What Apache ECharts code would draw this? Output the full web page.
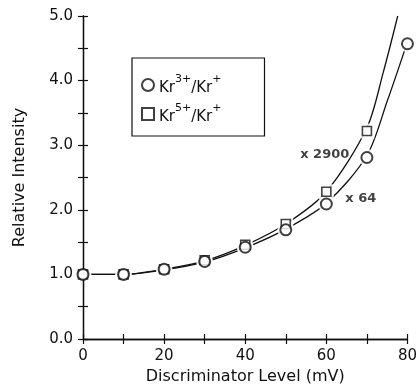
<!DOCTYPE html>
<html>
<head>
<meta charset="utf-8">
<script src="https://cdn.jsdelivr.net/npm/echarts@6/dist/echarts.min.js"></script>
<style>
  html, body { margin: 0; padding: 0; background: #fff; }
  #chart { width: 420px; height: 392px; }
</style>
</head>
<body>
<div id="chart"></div>
<script>
// measured points
const levels = [0, 10, 20, 30, 40, 50, 60, 70, 80];
const kr3 = [1.0, 1.0, 1.08, 1.2, 1.42, 1.69, 2.09, 2.81, 4.57];
const kr5Levels = [0, 10, 20, 30, 40, 50, 60, 70];
const kr5 = [1.0, 1.0, 1.08, 1.22, 1.46, 1.78, 2.28, 3.22];

// fitted curves as drawn
const fit3X = [0, 10, 20, 30, 40, 50, 60, 70, 75, 80];
const fit3Y = [1.0, 1.0, 1.07, 1.19, 1.41, 1.70, 2.10, 2.84, 3.68, 4.60];
const fit5X = [0, 10, 20, 30, 40, 50, 60, 70, 74, 77.6];
const fit5Y = [1.0, 1.0, 1.08, 1.21, 1.45, 1.78, 2.28, 3.27, 4.12, 5.0];

const xTicks = [0, 20, 40, 60, 80];
const yTicks = [0, 1, 2, 3, 4, 5];

const scaleNotes = [
  {text: 'x 2900', x: 59.6, y: 2.85},
  {text: 'x 64', x: 68.5, y: 2.17}
];

const zip = (xs, ys) => xs.map((x, i) => [x, ys[i]]);
const FONT = 'DejaVu Sans';

const chart = echarts.init(document.getElementById('chart'));

// ticks point into the plot on all four sides
function axisStyle(labelled) {
  return {
    z: 3,
    axisLine: {show: true, lineStyle: {color: '#111', width: 1.3}},
    axisTick: {show: true, inside: true, length: 5, lineStyle: {color: '#111', width: 1.2}},
    splitLine: {show: false},
    axisLabel: labelled ? {} : {show: false}
  };
}

chart.setOption({
  animation: false,
  backgroundColor: '#fff',
  grid: {left: 83, right: 11, top: 16, bottom: 53},
  legend: {
    data: ['Kr3+/Kr+', 'Kr5+/Kr+'],
    orient: 'vertical',
    left: 132, top: 58,
    padding: [16, 43, 11, 9],
    itemGap: 7,
    itemWidth: 12, itemHeight: 12,
    borderColor: '#111', borderWidth: 1.2, borderRadius: 0,
    textStyle: {
      color: '#111', fontFamily: FONT,
      rich: {
        a: {fontSize: 15, fontFamily: FONT, color: '#111', lineHeight: 22, verticalAlign: 'bottom'},
        s: {fontSize: 11, fontFamily: FONT, color: '#111', lineHeight: 22, verticalAlign: 'top'}
      }
    },
    formatter: name => name === 'Kr3+/Kr+'
      ? '{a|Kr}{s|3+}{a|/Kr}{s|+}'
      : '{a|Kr}{s|5+}{a|/Kr}{s|+}'
  },
  xAxis: [
    Object.assign({type: 'value', min: 0, max: 80, interval: 10, position: 'bottom'}, axisStyle(true), {
      name: 'Discriminator Level (mV)', nameLocation: 'middle', nameGap: 29,
      nameTextStyle: {fontFamily: FONT, fontSize: 16, color: '#111'},
      axisLabel: {fontFamily: FONT, fontSize: 15, color: '#111', margin: 10,
        formatter: v => xTicks.includes(v) ? String(v) : ''}
    }),
    Object.assign({type: 'value', min: 0, max: 80, interval: 10, position: 'top'}, axisStyle(false))
  ],
  yAxis: [
    Object.assign({type: 'value', min: 0, max: 5, interval: 0.5, position: 'left'}, axisStyle(true), {
      name: 'Relative Intensity', nameLocation: 'middle', nameGap: 55, nameRotate: 90,
      nameTextStyle: {fontFamily: FONT, fontSize: 16, color: '#111'},
      axisLabel: {fontFamily: FONT, fontSize: 15, color: '#111', margin: 10,
        formatter: v => yTicks.includes(v) ? v.toFixed(1) : ''}
    }),
    Object.assign({type: 'value', min: 0, max: 5, interval: 0.5, position: 'right'}, axisStyle(false))
  ],
  series: [
    {
      name: 'fit3', type: 'line', data: zip(fit3X, fit3Y), smooth: 0.3,
      showSymbol: false, z: 1, lineStyle: {color: '#111', width: 1.3}
    },
    {
      name: 'fit5', type: 'line', data: zip(fit5X, fit5Y), smooth: 0.3,
      showSymbol: false, z: 1, lineStyle: {color: '#111', width: 1.3}
    },
    // white gaps around the markers
    {
      name: 'gap3', type: 'scatter', data: zip(levels, kr3), symbol: 'circle',
      symbolSize: 17, z: 2, itemStyle: {color: '#fff'}, silent: true
    },
    {
      name: 'gap5', type: 'scatter', data: zip(kr5Levels, kr5), symbol: 'rect',
      symbolSize: 15, z: 2, itemStyle: {color: '#fff'}, silent: true
    },
    {
      name: 'Kr5+/Kr+', type: 'scatter', data: zip(kr5Levels, kr5), symbol: 'rect',
      symbolSize: 9, z: 4,
      itemStyle: {color: '#fff', borderColor: '#111', borderWidth: 1.6}
    },
    {
      name: 'Kr3+/Kr+', type: 'scatter', data: zip(levels, kr3), symbol: 'circle',
      symbolSize: 11, z: 5,
      itemStyle: {color: '#fff', borderColor: '#111', borderWidth: 2}
    },
    {
      name: 'notes', type: 'scatter', data: scaleNotes.map(n => [n.x, n.y]),
      symbolSize: 0, z: 5, silent: true,
      label: {
        show: true, position: 'inside', color: '#111', fontFamily: FONT,
        fontSize: 13, fontWeight: 'bold',
        formatter: p => scaleNotes[p.dataIndex].text
      }
    }
  ]
});
</script>
</body>
</html>
